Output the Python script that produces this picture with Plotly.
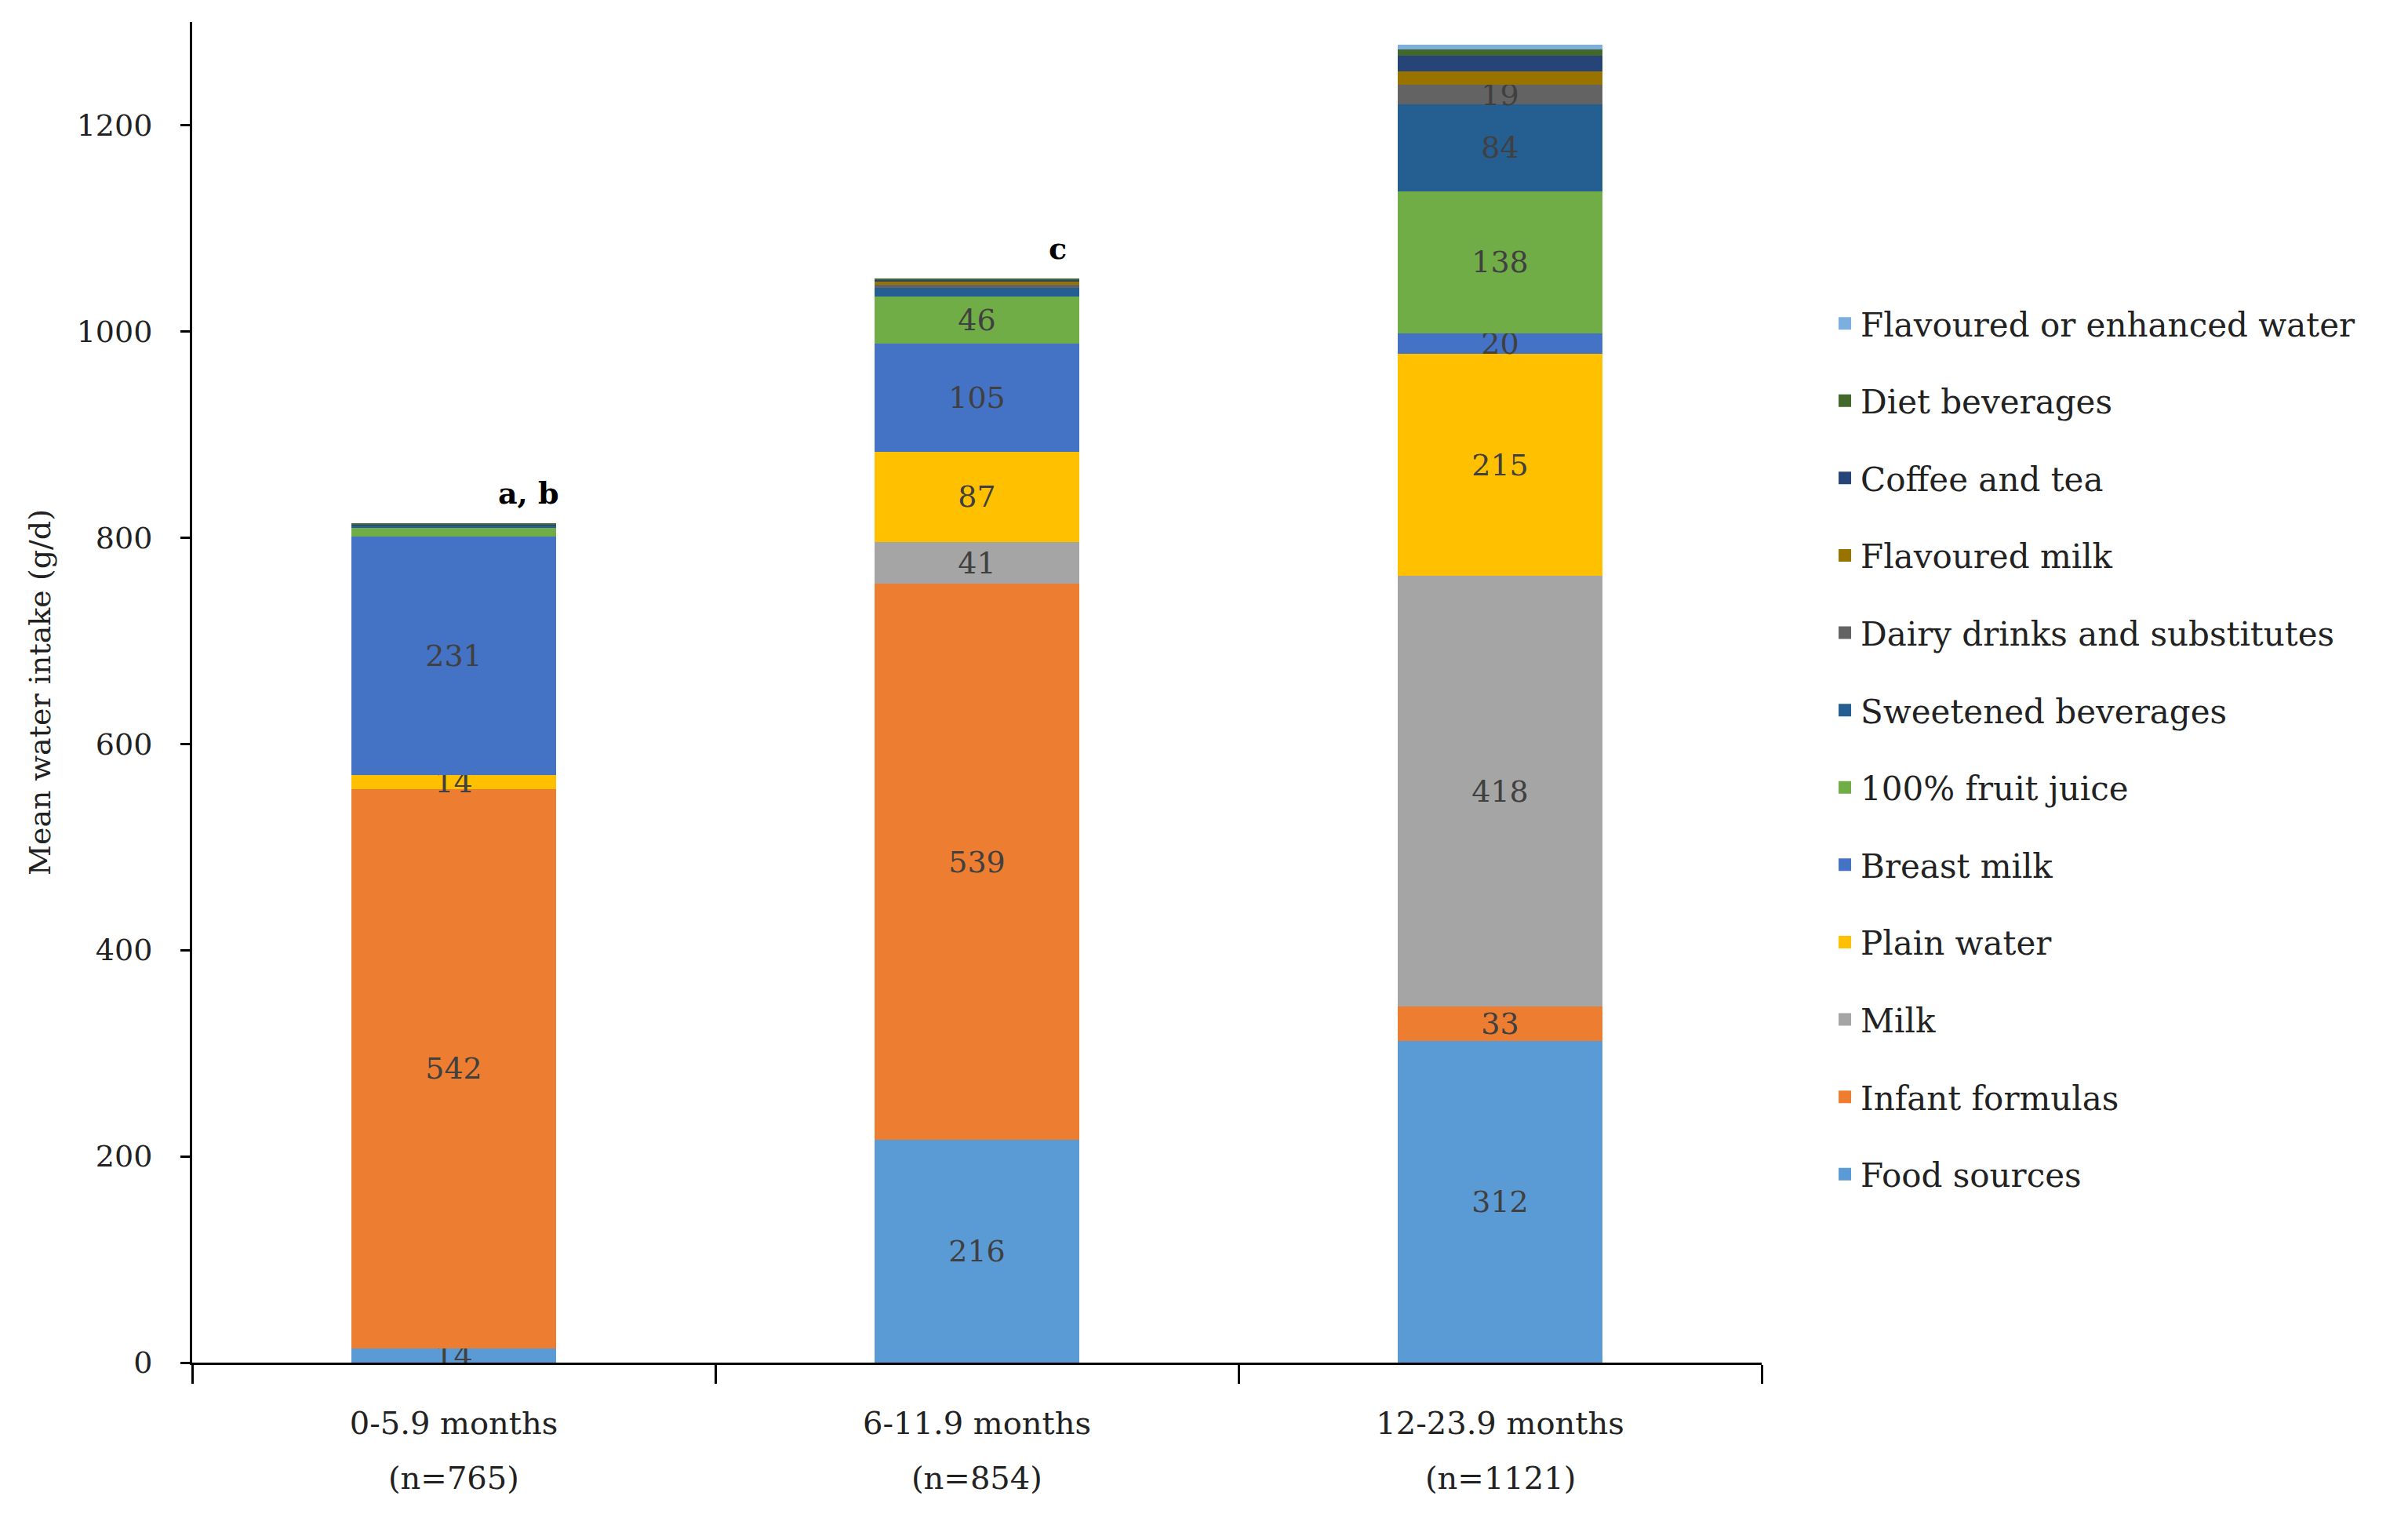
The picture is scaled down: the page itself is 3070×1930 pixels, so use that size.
import plotly.graph_objects as go

groups = ["0-5.9 months", "6-11.9 months", "12-23.9 months"]
group_n = ["(n=765)", "(n=854)", "(n=1121)"]

# stacked from bottom to top
sources = [
    "Food sources", "Infant formulas", "Milk", "Plain water", "Breast milk",
    "100% fruit juice", "Sweetened beverages", "Dairy drinks and substitutes",
    "Flavoured milk", "Coffee and tea", "Diet beverages", "Flavoured or enhanced water",
]
food_sources = [14, 216, 312]
infant_formulas = [542, 539, 33]
milk = [0, 41, 418]
plain_water = [14, 87, 215]
breast_milk = [231, 105, 20]
fruit_juice = [8, 46, 138]
sweetened = [3, 8, 84]
dairy_drinks = [0, 3, 19]
flavoured_milk = [0, 3, 13]
coffee_tea = [1, 2, 15]
diet_bev = [1, 1, 6]
flavoured_water = [0, 0, 5]

# which segments carry a value label
labelled = {
    "Food sources": [True, True, True],
    "Infant formulas": [True, True, True],
    "Milk": [False, True, True],
    "Plain water": [True, True, True],
    "Breast milk": [True, True, True],
    "100% fruit juice": [False, True, True],
    "Sweetened beverages": [False, False, True],
    "Dairy drinks and substitutes": [False, False, True],
}

colors = [
    "#5B9BD5", "#ED7D31", "#A5A5A5", "#FFC000", "#4472C4", "#70AD47",
    "#255E91", "#636363", "#997300", "#264478", "#43682B", "#7CAFDD",
]

values = [food_sources, infant_formulas, milk, plain_water, breast_milk, fruit_juice,
          sweetened, dairy_drinks, flavoured_milk, coffee_tea, diet_bev, flavoured_water]

sig_letters = ["a, b", "c", ""]

serif = "DejaVu Serif"

fig = go.Figure()
for i, (name, vals, col) in enumerate(zip(sources, values, colors)):
    flags = labelled.get(name, [False] * 3)
    txt = [str(v) if f else "" for v, f in zip(vals, flags)]
    fig.add_trace(go.Bar(
        x=groups, y=vals, name=name,
        marker=dict(color=col, line=dict(width=0)),
        text=txt, textposition="inside", insidetextanchor="middle",
        constraintext="none", textangle=0,
        textfont=dict(family=serif, size=38, color="#404040"),
        showlegend=False,
    ))
    # legend entry with a bigger square swatch
    fig.add_trace(go.Scatter(
        x=[None], y=[None], name=name, mode="markers",
        marker=dict(symbol="square", size=16, color=col),
        legendgroup=name, legendrank=100 - i,
    ))

totals = [sum(v[i] for v in values) for i in range(3)]
letter_shift = {"a, b": 136, "c": 116}
for g, t, s in zip(groups, totals, sig_letters):
    if s:
        fig.add_annotation(x=g, y=t, text="<b>" + s + "</b>", showarrow=False,
                           xanchor="right", yanchor="bottom", xshift=letter_shift[s], yshift=14,
                           font=dict(family=serif, size=38, color="black"))

# second line of the category labels
for g, n in zip(groups, group_n):
    fig.add_annotation(x=g, y=0, yref="paper", text=n, showarrow=False,
                       yanchor="top", yshift=-122,
                       font=dict(family=serif, size=40, color="#222222"))

fig.update_layout(
    barmode="stack",
    bargap=0.61,
    width=3070, height=1930,
    paper_bgcolor="white", plot_bgcolor="white",
    margin=dict(l=237, r=832, t=20, b=201),
    showlegend=True,
    legend=dict(
        x=1.043, y=0.795, xanchor="left", yanchor="top",
        traceorder="grouped", tracegroupgap=41,
        font=dict(family=serif, size=42, color="#222222"),
        itemwidth=30,
    ),
    xaxis=dict(
        range=[-0.5, 2.5],
        showline=True, linecolor="black", linewidth=3,
        ticks="outside", tickson="boundaries", ticklen=24, tickwidth=3, tickcolor="black",
        tickfont=dict(family=serif, size=40, color="#222222"),
        ticklabelstandoff=40,
        showgrid=False,
    ),
    yaxis=dict(
        range=[0, 1300], tickvals=[0, 200, 400, 600, 800, 1000, 1200],
        showline=True, linecolor="black", linewidth=3,
        ticks="outside", ticklen=12, tickwidth=3, tickcolor="black",
        tickfont=dict(family=serif, size=38, color="#222222"),
        ticklabelstandoff=28,
        showgrid=False, zeroline=False,
        title=dict(text="Mean water intake (g/d)", font=dict(family=serif, size=38, color="#222222"),
                   standoff=22),
    ),
)

fig.write_html("out.html")
